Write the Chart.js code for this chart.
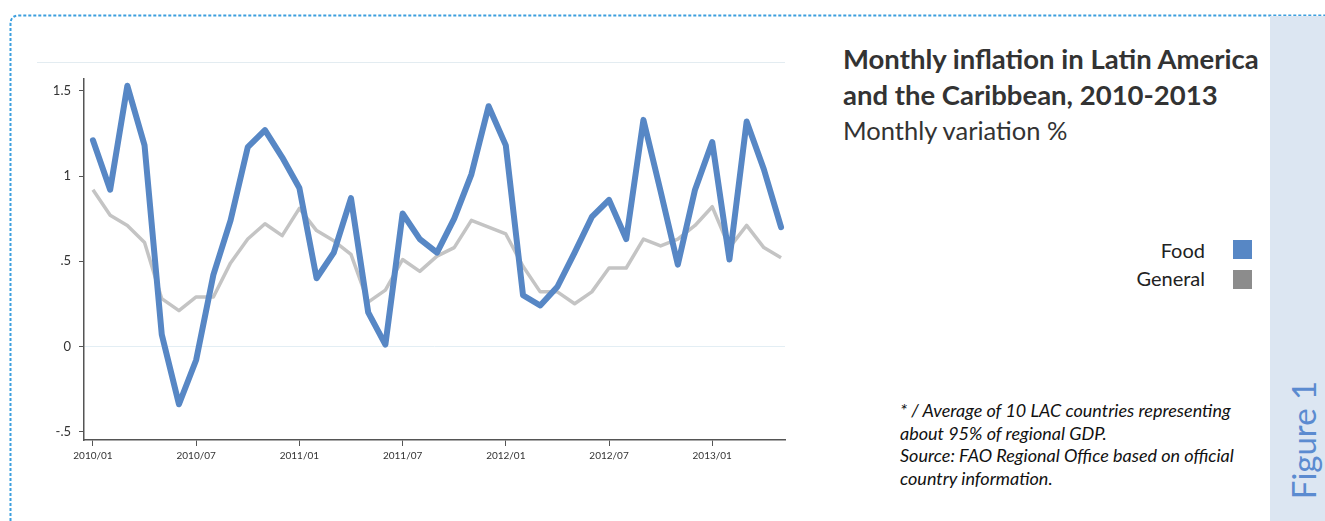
<!DOCTYPE html>
<html>
<head>
<meta charset="utf-8">
<script src="https://cdn.jsdelivr.net/npm/chart.js@4"></script>
<style>
  body { margin: 0; width: 1325px; height: 521px; background: #fff; overflow: hidden; position: relative; font-family: Lato, "Open Sans", sans-serif; }
  #wrap { position: absolute; left: 0; top: 0; width: 800px; height: 480px; }
  #frameTop { position: absolute; left: 37px; top: 62px; width: 748px; height: 1px; background: #e3ecf1; }
  #strip { position: absolute; left: 1270px; top: 16px; width: 55px; height: 505px; background: #dce6f2; }
  #fig { position: absolute; left: 1303px; top: 440px; transform: translate(-50%, -50%) rotate(-90deg); color: #5b8bd0; font-size: 33px; white-space: nowrap; }
  #title { position: absolute; left: 843px; top: 41px; color: #333; font-size: 25.5px; line-height: 35px; }
  #title b { font-weight: 700; font-size: 27.5px; }
  .leg { position: absolute; right: 120px; font-size: 20px; color: #222; }
  .sw { position: absolute; left: 1233px; width: 19px; height: 19px; }
  #note { position: absolute; left: 900px; top: 399px; font-size: 18px; font-style: italic; line-height: 22.5px; color: #111; }
</style>
</head>
<body>
<svg width="1325" height="521" style="position:absolute;left:0;top:0">
  <path d="M10.5 521 L10.5 24 Q10.5 15.5 19 15.5 L1325 15.5" fill="none" stroke="#3d9fde" stroke-width="2" stroke-dasharray="3 2"/>
</svg>
<div id="strip"></div>
<div id="fig">Figure 1</div>
<div id="frameTop"></div>
<div id="wrap"><canvas id="inflationChart"></canvas></div>
<div id="title"><b>Monthly inflation in Latin America<br>and the Caribbean, 2010-2013</b><br>Monthly variation %</div>
<div class="leg" style="top:238px; right:120px">Food</div>
<div class="sw" style="top:240px; background:#5787c5"></div>
<div class="leg" style="top:266px; right:120px">General</div>
<div class="sw" style="top:270px; background:#8c8c8c"></div>
<div id="note">* / Average of 10 LAC countries representing<br>about 95% of regional GDP.<br>Source: FAO Regional Office based on official<br>country information.</div>
<script>
// months 2010/01 .. 2013/05
var months = [];
for (var yr = 2010; yr <= 2013; yr++) {
  for (var m = 1; m <= 12; m++) {
    if (yr == 2013 && m > 5) break;
    months.push(yr + "/" + (m < 10 ? "0" + m : m));
  }
}

var foodValues = [1.21, 0.92, 1.53, 1.18, 0.07, -0.34, -0.08, 0.42, 0.74, 1.17, 1.27, 1.11,
                  0.93, 0.40, 0.55, 0.87, 0.20, 0.01, 0.78, 0.63, 0.55, 0.75, 1.01, 1.41,
                  1.18, 0.30, 0.24, 0.35, 0.55, 0.76, 0.86, 0.63, 1.33, 0.91, 0.48, 0.92,
                  1.20, 0.51, 1.32, 1.04, 0.70];

var generalValues = [0.92, 0.77, 0.71, 0.61, 0.28, 0.21, 0.29, 0.29, 0.49, 0.63, 0.72, 0.65,
                     0.81, 0.68, 0.62, 0.54, 0.26, 0.33, 0.51, 0.44, 0.53, 0.58, 0.74, 0.70,
                     0.66, 0.47, 0.32, 0.32, 0.25, 0.32, 0.46, 0.46, 0.63, 0.59, 0.63, 0.71,
                     0.82, 0.58, 0.71, 0.58, 0.52];

var yTicks = [-0.5, 0, 0.5, 1, 1.5];
var yTickLabels = ["-.5", "0", ".5", "1", "1.5"];

function toPoints(vals) {
  return vals.map(function(v, i) { return {x: i, y: v}; });
}

var ctx = document.getElementById("inflationChart");
var chart = new Chart(ctx, {
  type: 'line',
  data: {
    datasets: [
      { label: "Food", data: toPoints(foodValues), borderColor: "#5787c5", borderWidth: 6,
        pointRadius: 0, tension: 0, borderJoinStyle: 'round', borderCapStyle: 'round' },
      { label: "General", data: toPoints(generalValues), borderColor: "#c4c4c4", borderWidth: 3.5,
        pointRadius: 0, tension: 0, borderJoinStyle: 'round' }
    ]
  },
  options: {
    responsive: true,
    maintainAspectRatio: false,
    animation: false,
    layout: { padding: { top: 79, right: 15, left: 0, bottom: 0 } },
    plugins: { legend: { display: false }, tooltip: { enabled: false } },
    scales: {
      x: {
        type: 'linear',
        min: -0.52,
        max: 40.23,
        afterBuildTicks: function(scale) {
          var t = [];
          for (var i = 0; i < months.length; i += 6) t.push({value: i});
          scale.ticks = t;
        },
        afterFit: function(scale) { scale.height = 40; },
        ticks: {
          autoSkip: false, maxRotation: 0, padding: 4,
          color: "#333", font: { family: "Lato, 'Open Sans', sans-serif", size: 10 },
          callback: function(v) { return months[v]; }
        },
        grid: { drawOnChartArea: false, tickLength: 6, tickColor: "#555" },
        border: { color: "#555", width: 1.5 }
      },
      y: {
        min: -0.55,
        max: 1.57,
        afterBuildTicks: function(scale) {
          scale.ticks = yTicks.map(function(v) { return {value: v}; });
        },
        afterFit: function(scale) { scale.width = 84; },
        ticks: {
          padding: 8, color: "#333", font: { family: "Lato, 'Open Sans', sans-serif", size: 13 },
          callback: function(v) { return yTickLabels[yTicks.indexOf(v)]; }
        },
        grid: {
          tickLength: 5, tickColor: "#555",
          color: function(c) { return c.tick && c.tick.value === 0 ? "#e3eef4" : "rgba(0,0,0,0)"; }
        },
        border: { color: "#555", width: 1.5 }
      }
    }
  }
});
</script>
</body>
</html>
